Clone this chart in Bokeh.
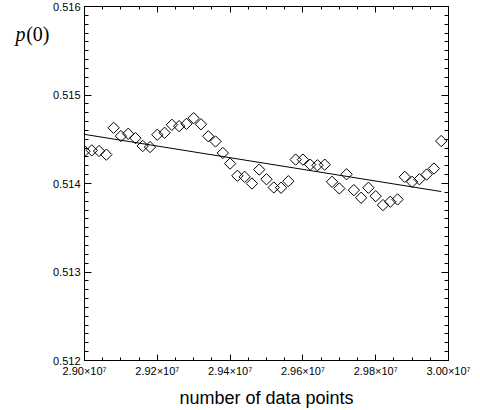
from bokeh.plotting import figure
from bokeh.models import (Range1d, LinearAxis, SingleIntervalTicker, PrintfTickFormatter,
                          CustomJSTickFormatter, FixedTicker)
from bokeh.embed import file_html
from bokeh.resources import INLINE

# ---- data ----
n_points = [29000000, 29020000, 29040000, 29060000, 29080000, 29100000, 29120000, 29140000,
            29160000, 29180000, 29200000, 29220000, 29240000, 29260000, 29280000, 29300000,
            29320000, 29340000, 29360000, 29380000, 29400000, 29420000, 29440000, 29460000,
            29480000, 29500000, 29520000, 29540000, 29560000, 29580000, 29600000, 29620000,
            29640000, 29660000, 29680000, 29700000, 29720000, 29740000, 29760000, 29780000,
            29800000, 29820000, 29840000, 29860000, 29880000, 29900000, 29920000, 29940000,
            29960000, 29980000]
p0 = [0.514365, 0.514374, 0.514367, 0.514326, 0.514629, 0.514536, 0.514562, 0.514513,
      0.514424, 0.514412, 0.514551, 0.514573, 0.514663, 0.514648, 0.514674, 0.514738,
      0.514669, 0.514534, 0.514475, 0.514345, 0.514225, 0.514087, 0.514075, 0.514000,
      0.514157, 0.514048, 0.513955, 0.513952, 0.514026, 0.514270, 0.514270, 0.514213,
      0.514206, 0.514213, 0.514019, 0.513944, 0.514104, 0.513925, 0.513839, 0.513952,
      0.513857, 0.513756, 0.513794, 0.513820, 0.514075, 0.514019, 0.514048, 0.514101,
      0.514169, 0.514480]
fit_x = [29000000, 29980000]
fit_y = [0.514555, 0.513909]
x_label = "number of data points"
y_label_var = "p"
y_label_arg = "(0)"
y_label_level = [0.515687]   # height of the y-axis caption

# ---- figure ----
p = figure(width=480, height=410, output_backend="svg", toolbar_location=None,
           x_range=Range1d(2.90e7, 3.00e7), y_range=Range1d(0.512, 0.516),
           min_border_left=84, min_border_right=32, min_border_top=6, min_border_bottom=47,
           x_axis_location=None, y_axis_location=None)
p.background_fill_color = "white"
p.border_fill_color = "white"
p.outline_line_color = "black"
p.outline_line_width = 1
p.xgrid.visible = False
p.ygrid.visible = False

xfmt = CustomJSTickFormatter(code="return (tick/1e7).toFixed(2) + '\u00d710\u2077';")
yfmt = PrintfTickFormatter(format="%.3f")
blank = CustomJSTickFormatter(code="return '';")

def style(ax, show_labels):
    ax.axis_line_color = "black"
    ax.major_tick_line_color = "black"
    ax.minor_tick_line_color = "black"
    ax.major_tick_in = 6
    ax.major_tick_out = 0
    ax.minor_tick_in = 3
    ax.minor_tick_out = 0
    if show_labels:
        ax.major_label_text_font = "Liberation Sans"
        ax.major_label_text_font_size = "11px"
        ax.major_label_text_color = "black"
        ax.major_label_standoff = 4
    else:
        ax.major_label_text_font_size = "1px"
        ax.major_label_standoff = 0

xb = LinearAxis(ticker=SingleIntervalTicker(interval=200000, num_minor_ticks=4), formatter=xfmt)
style(xb, True)
xb.axis_label = x_label
xb.axis_label_text_font = "Liberation Sans"
xb.axis_label_text_font_size = "18px"
xb.axis_label_text_font_style = "normal"
xb.axis_label_text_color = "black"
xb.axis_label_standoff = 8
p.add_layout(xb, "below")

xt = LinearAxis(ticker=SingleIntervalTicker(interval=200000, num_minor_ticks=4), formatter=blank)
style(xt, False)
p.add_layout(xt, "above")

yl = LinearAxis(ticker=SingleIntervalTicker(interval=0.001, num_minor_ticks=10), formatter=yfmt)
style(yl, True)
yl.major_tick_in = 7
yl.minor_tick_in = 4
p.add_layout(yl, "left")

yr = LinearAxis(ticker=SingleIntervalTicker(interval=0.001, num_minor_ticks=10), formatter=blank)
style(yr, False)
yr.major_tick_in = 7
yr.minor_tick_in = 4
p.add_layout(yr, "right")

# y caption "p(0)", drawn horizontally at the top-left, as two label-only axes
def caption_axis(text, style_name, standoff):
    ax = LinearAxis(ticker=FixedTicker(ticks=y_label_level, minor_ticks=[]),
                    formatter=CustomJSTickFormatter(code="return %r;" % text))
    ax.axis_line_color = None
    ax.major_tick_line_color = None
    ax.minor_tick_line_color = None
    ax.major_tick_in = 0
    ax.major_tick_out = 0
    ax.minor_tick_in = 0
    ax.minor_tick_out = 0
    ax.major_label_standoff = standoff
    ax.major_label_text_font = "Liberation Serif"
    ax.major_label_text_font_size = "20px"
    ax.major_label_text_font_style = style_name
    ax.major_label_text_color = "black"
    return ax

p.add_layout(caption_axis(y_label_arg, "normal", 0), "left")
p.add_layout(caption_axis(y_label_var, "italic", -2), "left")

# data
p.scatter(n_points, p0, marker="square", size=8, angle=0.785398, fill_color=None,
          line_color="black", line_width=1)
p.line(fit_x, fit_y, line_color="black", line_width=1)

open("out.html", "w").write(file_html(p, INLINE))
